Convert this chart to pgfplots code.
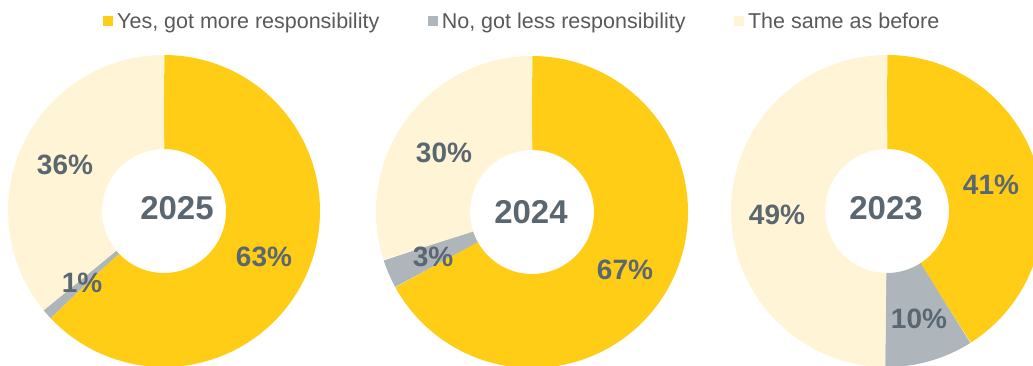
\documentclass[border=0pt]{standalone}
\usepackage{pgfplots}
\usepackage{pgfplotstable}
\pgfplotsset{compat=1.18}
\usepackage{fontspec}
\setmainfont{Liberation Sans}
\definecolor{cyes}{HTML}{FFCC16}
\definecolor{cno}{HTML}{AEB6BB}
\definecolor{csame}{HTML}{FFF4D6}
\definecolor{clab}{HTML}{5B6770}
\definecolor{cleg}{HTML}{595959}

\pgfplotstableread{
year yes no same cx cy
2025 63 1 36 164 211
2024 67 3 30 532 212
2023 41 9.2 49.8 887 211
}\donutdata

\newcommand\slice[6]{%
  \edef\tmp{\noexpand\addplot[forget plot, color=#5, line width=94pt, domain=#3:#4, samples=#6, variable=\noexpand\t, no markers] ({#1+109*sin(\noexpand\t)},{#2-109*cos(\noexpand\t)});}%
  \tmp}

\begin{document}
\begin{tikzpicture}
\begin{axis}[
  width=1033pt, height=365pt, scale only axis,
  xmin=0, xmax=1033, ymin=0, ymax=365, y dir=reverse,
  hide axis, clip=true,
  legend columns=3,
  legend image code/.code={\fill[#1] (0pt,-5pt) rectangle (10pt,5pt);},
  legend style={at={(axis cs:103,21)}, anchor=west, draw=none, fill=none, inner sep=0pt,
    font=\fontsize{21.5}{24}\selectfont, text=cleg,
    /tikz/every odd column/.append style={column sep=2pt},
    /tikz/every even column/.append style={column sep=46.5pt}},
  legend cell align=left,
]
\addlegendimage{fill=cyes, draw=none}
\addlegendentry{Yes, got more responsibility}
\addlegendimage{fill=cno, draw=none}
\addlegendentry{No, got less responsibility}
\addlegendimage{fill=csame, draw=none}
\addlegendentry{The same as before}

\pgfplotsforeachungrouped \r in {0,1,2}{%
  \pgfplotstablegetelem{\r}{yes}\of\donutdata \let\vy\pgfplotsretval
  \pgfplotstablegetelem{\r}{no}\of\donutdata \let\vn\pgfplotsretval
  \pgfplotstablegetelem{\r}{cx}\of\donutdata \let\vcx\pgfplotsretval
  \pgfplotstablegetelem{\r}{cy}\of\donutdata \let\vcy\pgfplotsretval
  \pgfmathsetmacro\aB{3.6*\vy}
  \pgfmathsetmacro\aC{3.6*(\vy+\vn)}
  \slice{\vcx}{\vcy}{0}{\aB}{cyes}{400}
  \slice{\vcx}{\vcy}{\aB}{\aC}{cno}{40}
  \slice{\vcx}{\vcy}{\aC}{360}{csame}{400}
}

\tikzset{pl/.style={font=\bfseries\fontsize{28}{30}\selectfont, text=clab},
         yr/.style={font=\bfseries\fontsize{33}{36}\selectfont, text=clab}}
\node[yr] at (axis cs:177,208) {2025};
\node[pl] at (axis cs:65,165) {36\%};
\node[pl] at (axis cs:264,257) {63\%};
\node[pl] at (axis cs:82,283) {1\%};

\node[yr] at (axis cs:531,212) {2024};
\node[pl] at (axis cs:444,153) {30\%};
\node[pl] at (axis cs:433,257) {3\%};
\node[pl] at (axis cs:625,270) {67\%};

\node[yr] at (axis cs:886,208) {2023};
\node[pl] at (axis cs:991,185) {41\%};
\node[pl] at (axis cs:777,215) {49\%};
\node[pl] at (axis cs:919,319) {10\%};
\end{axis}
\pgfresetboundingbox
\path[use as bounding box] (current axis.south west) rectangle (current axis.north east);
\end{tikzpicture}
\end{document}
